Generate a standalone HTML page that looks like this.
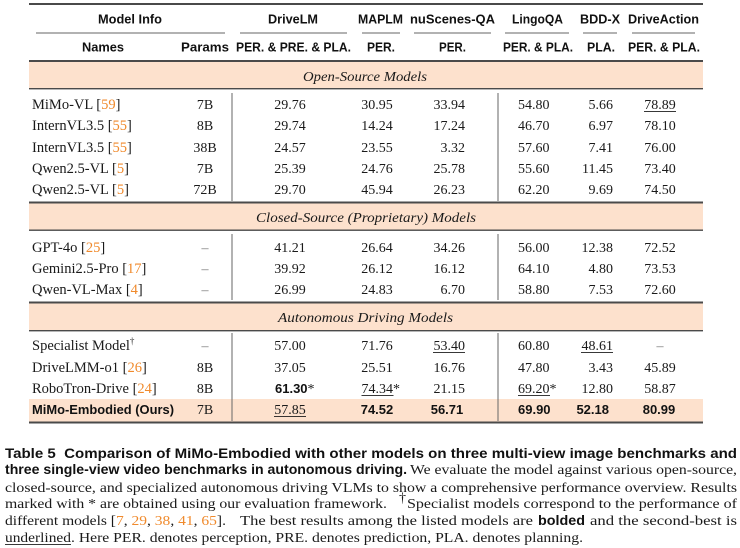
<!DOCTYPE html>
<html><head><meta charset="utf-8"><style>
html,body{margin:0;padding:0;background:#fff;}
svg{display:block}
.s{font-family:"Liberation Serif",serif;font-size:14px;fill:#1a1a1a}
.nm{font-size:14.5px}
.it{font-style:italic}
.h{font-family:"Liberation Sans",sans-serif;font-weight:bold;font-size:12.5px;fill:#111}
.b{font-family:"Liberation Sans",sans-serif;font-weight:bold;font-size:13px;fill:#111}
.cb{font-family:"Liberation Sans",sans-serif;font-weight:bold;font-size:14px;fill:#111}
.o{fill:#f08a2c}
.d{fill:#777}
</style></head><body>
<svg width="740" height="548" viewBox="0 0 740 548" xmlns="http://www.w3.org/2000/svg">
<rect x="0" y="0" width="740" height="548" fill="#fff"/>
<!-- bands -->
<rect x="29" y="62" width="674" height="26" fill="#fde1cd"/>
<rect x="29" y="203.5" width="674" height="26" fill="#fde1cd"/>
<rect x="29" y="303.5" width="674" height="26.5" fill="#fde1cd"/>
<rect x="29" y="399" width="674" height="22.5" fill="#fde1cd"/>
<!-- rules -->
<g fill="#4a4a4a">
<rect x="29" y="3" width="674" height="2"/>
<rect x="29" y="60" width="674" height="2"/>
<rect x="29" y="88" width="674" height="1.4"/>
<rect x="29" y="201.5" width="674" height="2"/>
<rect x="29" y="229.5" width="674" height="1.4"/>
<rect x="29" y="301.5" width="674" height="2"/>
<rect x="29" y="330" width="674" height="1.4"/>
<rect x="29" y="421.5" width="674" height="2"/>
</g>
<!-- cmidrules -->
<g fill="#666">
<rect x="36" y="32.5" width="189" height="1"/>
<rect x="240" y="32.5" width="107" height="1"/>
<rect x="362" y="32.5" width="38" height="1"/>
<rect x="414" y="32.5" width="77" height="1"/>
<rect x="505" y="32.5" width="64" height="1"/>
<rect x="583" y="32.5" width="34" height="1"/>
<rect x="632" y="32.5" width="63" height="1"/>
</g>
<!-- vertical lines -->
<g fill="#666">
<rect x="231.5" y="93" width="1" height="108"/>
<rect x="497.5" y="93" width="1" height="108"/>
<rect x="231.5" y="234" width="1" height="66"/>
<rect x="497.5" y="234" width="1" height="66"/>
<rect x="231.5" y="333" width="1" height="88"/>
<rect x="497.5" y="333" width="1" height="88"/>
</g>
<!-- header row 1 -->
<text class="h" x="98" y="23.5" textLength="64" lengthAdjust="spacingAndGlyphs">Model Info</text>
<text class="h" x="268" y="23.5" textLength="50" lengthAdjust="spacingAndGlyphs">DriveLM</text>
<text class="h" x="358" y="23.5" textLength="45" lengthAdjust="spacingAndGlyphs">MAPLM</text>
<text class="h" x="410" y="23.5" textLength="85" lengthAdjust="spacingAndGlyphs">nuScenes-QA</text>
<text class="h" x="512" y="23.5" textLength="51" lengthAdjust="spacingAndGlyphs">LingoQA</text>
<text class="h" x="580" y="23.5" textLength="40" lengthAdjust="spacingAndGlyphs">BDD-X</text>
<text class="h" x="628" y="23.5" textLength="71" lengthAdjust="spacingAndGlyphs">DriveAction</text>
<!-- header row 2 -->
<text class="h" x="82" y="51.5" textLength="42" lengthAdjust="spacingAndGlyphs">Names</text>
<text class="h" x="181" y="51.5" textLength="48" lengthAdjust="spacingAndGlyphs">Params</text>
<text class="h" x="236" y="51.5" textLength="115" lengthAdjust="spacingAndGlyphs">PER. &amp; PRE. &amp; PLA.</text>
<text class="h" x="367" y="51.5" textLength="28" lengthAdjust="spacingAndGlyphs">PER.</text>
<text class="h" x="439" y="51.5" textLength="27" lengthAdjust="spacingAndGlyphs">PER.</text>
<text class="h" x="503" y="51.5" textLength="70" lengthAdjust="spacingAndGlyphs">PER. &amp; PLA.</text>
<text class="h" x="587" y="51.5" textLength="28" lengthAdjust="spacingAndGlyphs">PLA.</text>
<text class="h" x="628" y="51.5" textLength="72" lengthAdjust="spacingAndGlyphs">PER. &amp; PLA.</text>
<!-- band titles -->
<text class="s it" x="303" y="81" textLength="124" lengthAdjust="spacingAndGlyphs">Open-Source Models</text>
<text class="s it" x="256" y="222" textLength="220" lengthAdjust="spacingAndGlyphs">Closed-Source (Proprietary) Models</text>
<text class="s it" x="278" y="322" textLength="175" lengthAdjust="spacingAndGlyphs">Autonomous Driving Models</text>

<!-- names -->
<g class="s nm">
<text x="32" y="109">MiMo-VL [<tspan class="o">59</tspan>]</text>
<text x="32" y="130">InternVL3.5 [<tspan class="o">55</tspan>]</text>
<text x="32" y="152">InternVL3.5 [<tspan class="o">55</tspan>]</text>
<text x="32" y="173">Qwen2.5-VL [<tspan class="o">5</tspan>]</text>
<text x="32" y="194">Qwen2.5-VL [<tspan class="o">5</tspan>]</text>
<text x="32" y="252">GPT-4o [<tspan class="o">25</tspan>]</text>
<text x="32" y="273">Gemini2.5-Pro [<tspan class="o">17</tspan>]</text>
<text x="32" y="294">Qwen-VL-Max [<tspan class="o">4</tspan>]</text>
<text x="32" y="350">Specialist Model<tspan font-size="9" dy="-6">†</tspan></text>
<text x="32" y="372">DriveLMM-o1 [<tspan class="o">26</tspan>]</text>
<text x="32" y="393">RoboTron-Drive [<tspan class="o">24</tspan>]</text>
</g>
<text class="b" x="32" y="414" textLength="142" lengthAdjust="spacingAndGlyphs">MiMo-Embodied (Ours)</text>

<!-- params -->
<g class="s" text-anchor="middle">
<text x="205" y="109">7B</text>
<text x="205" y="130">8B</text>
<text x="205" y="152">38B</text>
<text x="205" y="173">7B</text>
<text x="205" y="194">72B</text>
<text x="205" y="252" class="d">–</text>
<text x="205" y="273" class="d">–</text>
<text x="205" y="294" class="d">–</text>
<text x="205" y="350" class="d">–</text>
<text x="205" y="372">8B</text>
<text x="205" y="393">8B</text>
<text x="205" y="414">7B</text>
</g>

<!-- DriveLM (center 290) -->
<g class="s" text-anchor="middle">
<text x="290" y="109">29.76</text>
<text x="290" y="130">29.74</text>
<text x="290" y="152">24.57</text>
<text x="290" y="173">25.39</text>
<text x="290" y="194">29.70</text>
<text x="290" y="252">41.21</text>
<text x="290" y="273">39.92</text>
<text x="290" y="294">26.99</text>
<text x="290" y="350">57.00</text>
<text x="290" y="372">37.05</text>
<text x="290" y="414">57.85</text>
</g>
<text x="275" y="393"><tspan class="b">61.30</tspan><tspan class="s">*</tspan></text>

<!-- MAPLM (center 377) -->
<g class="s" text-anchor="middle">
<text x="377" y="109">30.95</text>
<text x="377" y="130">14.24</text>
<text x="377" y="152">23.55</text>
<text x="377" y="173">24.76</text>
<text x="377" y="194">45.94</text>
<text x="377" y="252">26.64</text>
<text x="377" y="273">26.12</text>
<text x="377" y="294">24.83</text>
<text x="377" y="350">71.76</text>
<text x="377" y="372">25.51</text>
</g>
<text class="s" x="361.5" y="393">74.34*</text>
<text class="b" x="377" y="414" text-anchor="middle">74.52</text>

<!-- nuScenes (right 465) -->
<g class="s" text-anchor="end">
<text x="465" y="109">33.94</text>
<text x="465" y="130">17.24</text>
<text x="465" y="152">3.32</text>
<text x="465" y="173">25.78</text>
<text x="465" y="194">26.23</text>
<text x="465" y="252">34.26</text>
<text x="465" y="273">16.12</text>
<text x="465" y="294">6.70</text>
<text x="465" y="350">53.40</text>
<text x="465" y="372">16.76</text>
<text x="465" y="393">21.15</text>
</g>
<text class="b" x="447" y="414" text-anchor="middle">56.71</text>

<!-- LingoQA (left 518) -->
<g class="s">
<text x="518" y="109">54.80</text>
<text x="518" y="130">46.70</text>
<text x="518" y="152">57.60</text>
<text x="518" y="173">55.60</text>
<text x="518" y="194">62.20</text>
<text x="518" y="252">56.00</text>
<text x="518" y="273">64.10</text>
<text x="518" y="294">58.80</text>
<text x="518" y="350">60.80</text>
<text x="518" y="372">47.80</text>
<text x="518" y="393">69.20*</text>
</g>
<text class="b" x="518" y="414">69.90</text>

<!-- BDD-X (right 613) -->
<g class="s" text-anchor="end">
<text x="613" y="109">5.66</text>
<text x="613" y="130">6.97</text>
<text x="613" y="152">7.41</text>
<text x="613" y="173">11.45</text>
<text x="613" y="194">9.69</text>
<text x="613" y="252">12.38</text>
<text x="613" y="273">4.80</text>
<text x="613" y="294">7.53</text>
<text x="613" y="350">48.61</text>
<text x="613" y="372">3.43</text>
<text x="613" y="393">12.80</text>
</g>
<text class="b" x="609" y="414" text-anchor="end">52.18</text>

<!-- DriveAction (center 660) -->
<g class="s" text-anchor="middle">
<text x="660" y="109">78.89</text>
<text x="660" y="130">78.10</text>
<text x="660" y="152">76.00</text>
<text x="660" y="173">73.40</text>
<text x="660" y="194">74.50</text>
<text x="660" y="252">72.52</text>
<text x="660" y="273">73.53</text>
<text x="660" y="294">72.60</text>
<text x="660" y="350" class="d">–</text>
<text x="660" y="372">45.89</text>
<text x="660" y="393">58.87</text>
</g>
<text class="b" x="659" y="414" text-anchor="middle">80.99</text>

<!-- underlines -->
<g fill="#222">
<rect x="644" y="111" width="32" height="0.9"/>
<rect x="433" y="352" width="32" height="0.9"/>
<rect x="581" y="352" width="32" height="0.9"/>
<rect x="361.5" y="395" width="32" height="0.9"/>
<rect x="518" y="395" width="32" height="0.9"/>
<rect x="274" y="416" width="32" height="0.9"/>
</g>

<!-- caption -->
<text class="cb" x="5" y="458" textLength="732" lengthAdjust="spacingAndGlyphs">Table 5&#160;&#160;Comparison of MiMo-Embodied with other models on three multi-view image benchmarks and</text>
<text class="cb" x="5" y="474" textLength="402" lengthAdjust="spacingAndGlyphs">three single-view video benchmarks in autonomous driving.</text>
<text class="s" x="410" y="474" textLength="327" lengthAdjust="spacingAndGlyphs">We evaluate the model against various open-source,</text>
<text class="s" x="5" y="492" textLength="732" lengthAdjust="spacingAndGlyphs">closed-source, and specialized autonomous driving VLMs to show a comprehensive performance overview. Results</text>
<text class="s" x="5" y="508" textLength="382" lengthAdjust="spacingAndGlyphs">marked with * are obtained using our evaluation framework.</text>
<text class="s" x="399" y="502" font-size="9">†</text>
<text class="s" x="407" y="508" textLength="330" lengthAdjust="spacingAndGlyphs">Specialist models correspond to the performance of</text>
<text class="s" x="5" y="525" textLength="221" lengthAdjust="spacingAndGlyphs">different models [<tspan class="o">7</tspan>, <tspan class="o">29</tspan>, <tspan class="o">38</tspan>, <tspan class="o">41</tspan>, <tspan class="o">65</tspan>].</text>
<text class="s" x="240" y="525" textLength="293" lengthAdjust="spacingAndGlyphs">The best results among the listed models are</text>
<text class="cb" x="538" y="525" textLength="47" lengthAdjust="spacingAndGlyphs">bolded</text>
<text class="s" x="590" y="525" textLength="147" lengthAdjust="spacingAndGlyphs">and the second-best is</text>
<text class="s" x="5" y="542" textLength="66" lengthAdjust="spacingAndGlyphs">underlined</text>
<rect x="5" y="544" width="66" height="0.9" fill="#222"/>
<text class="s" x="71" y="542" textLength="512" lengthAdjust="spacingAndGlyphs">. Here PER. denotes perception, PRE. denotes prediction, PLA. denotes planning.</text>
</svg>
</body></html>
